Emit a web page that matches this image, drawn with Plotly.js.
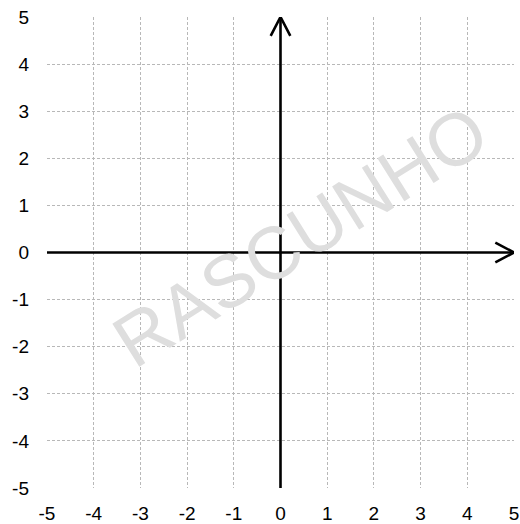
<!DOCTYPE html>
<html>
<head>
<meta charset="utf-8">
<script src="https://cdn.plot.ly/plotly-3.0.1.min.js"></script>
<style>html,body{margin:0;padding:0;background:#fff}#chart{width:520px;height:524px}</style>
</head>
<body>
<div id="chart"></div>
<script>
const tickValues = [-5, -4, -3, -2, -1, 0, 1, 2, 3, 4, 5];
const tickLabels = ["-5", "-4", "-3", "-2", "-1", "0", "1", "2", "3", "4", "5"];
const xAxisX = [-5, 5];
const xAxisY = [0, 0];
const yAxisX = [0, 0];
const yAxisY = [-5, 5];
const xArrowX = [4.6, 5, 4.6];
const xArrowY = [0.21, 0, -0.21];
const yArrowX = [-0.21, 0, 0.21];
const yArrowY = [4.6, 5, 4.6];
const watermark = "RASCUNHO";

const lineStyle = {color: "#000", width: 2.6};
const traces = [
  {x: xAxisX, y: xAxisY, mode: "lines", line: lineStyle, hoverinfo: "skip", cliponaxis: false},
  {x: yAxisX, y: yAxisY, mode: "lines", line: lineStyle, hoverinfo: "skip", cliponaxis: false},
  {x: xArrowX, y: xArrowY, mode: "lines", line: lineStyle, hoverinfo: "skip", cliponaxis: false},
  {x: yArrowX, y: yArrowY, mode: "lines", line: lineStyle, hoverinfo: "skip", cliponaxis: false}
];

const axisCommon = {
  range: [-5, 5],
  tickvals: tickValues,
  ticktext: tickLabels,
  showgrid: true,
  gridcolor: "#b8b8b8",
  griddash: "3px,2px",
  gridwidth: 1,
  zeroline: false,
  showline: false,
  ticks: "",
  tickfont: {family: "Liberation Sans, Arial, sans-serif", size: 19, color: "#000"},
  fixedrange: true
};

const layout = {
  width: 520,
  height: 524,
  margin: {l: 47, r: 6, t: 17, b: 36},
  paper_bgcolor: "#fff",
  plot_bgcolor: "#fff",
  showlegend: false,
  xaxis: Object.assign({}, axisCommon, {ticklabelstandoff: 12}),
  yaxis: Object.assign({}, axisCommon, {ticklabelstandoff: 17}),
  annotations: [{
    x: 0.42, y: 0.33, xref: "x", yref: "y",
    text: watermark, showarrow: false, textangle: -32,
    font: {family: "Liberation Sans, Arial, sans-serif", size: 74, color: "#dedede"}
  }]
};

Plotly.newPlot("chart", traces, layout, {displayModeBar: false, staticPlot: true});
</script>
</body>
</html>
